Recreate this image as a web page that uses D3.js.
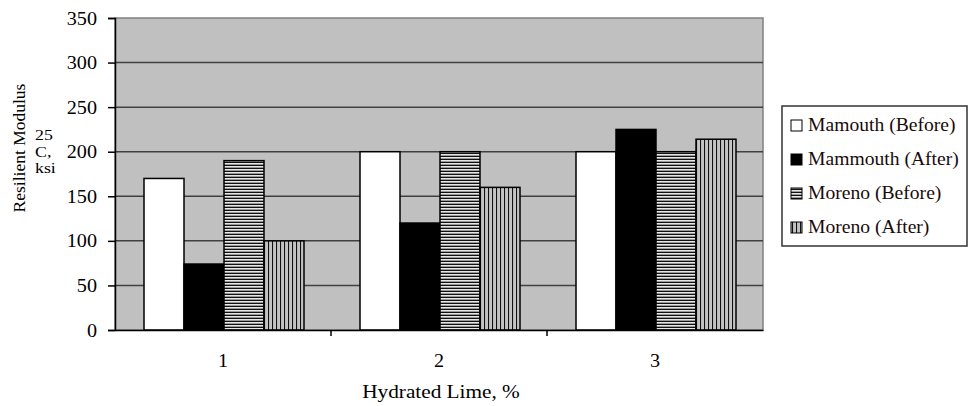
<!DOCTYPE html>
<html><head><meta charset="utf-8">
<script src="https://cdn.jsdelivr.net/npm/d3@7/dist/d3.min.js"></script>
<style>body{margin:0;background:#fff}svg{display:block}</style>
</head><body>
<svg id="c" width="970" height="406"></svg>
<script>
const categories = ["1","2","3"];
const seriesNames = ["Mamouth (Before)","Mammouth (After)","Moreno (Before)","Moreno (After)"];
const mamouthBefore = [170,200,200];
const mammouthAfter = [74,120,225];
const morenoBefore = [190,200,200];
const morenoAfter = [100,160,214];
const yTicks = [0,50,100,150,200,250,300,350];
const seriesValues = [mamouthBefore, mammouthAfter, morenoBefore, morenoAfter];

const FONT = '"Liberation Serif","Tinos","Times New Roman",serif';
const svg = d3.select("#c");
const m = {l:115, t:18, r:763, b:330};

const defs = svg.append("defs");
const ph = defs.append("pattern").attr("id","hstripe").attr("patternUnits","userSpaceOnUse")
  .attr("width",4).attr("height",3);
ph.append("rect").attr("width",4).attr("height",3).attr("fill","#ffffff");
ph.append("rect").attr("y",0).attr("width",4).attr("height",1.1).attr("fill","#111");
ph.append("rect").attr("y",2).attr("width",4).attr("height",1).attr("fill","#999");
const pv = defs.append("pattern").attr("id","vstripe").attr("patternUnits","userSpaceOnUse")
  .attr("width",4).attr("height",4);
pv.append("rect").attr("width",4).attr("height",4).attr("fill","#ffffff");
pv.append("rect").attr("x",0).attr("width",1.3).attr("height",4).attr("fill","#111");
pv.append("rect").attr("x",2.5).attr("width",1).attr("height",4).attr("fill","#888");
const fills = ["#ffffff","#000000","url(#hstripe)","url(#vstripe)"];

const x = d3.scaleBand().domain(categories).range([m.l, m.r]);
const xs = d3.scaleBand().domain(seriesNames).range([0, 160]);
const y = d3.scaleLinear().domain([0,350]).range([m.b, m.t]);

svg.append("rect").attr("x",m.l).attr("y",m.t).attr("width",m.r-m.l).attr("height",m.b-m.t)
  .attr("fill","#c0c0c0").attr("stroke","#808080").attr("stroke-width",1.5);

svg.append("g").selectAll("line").data(yTicks.filter(d=>d>0&&d<350)).join("line")
  .attr("x1",m.l).attr("x2",m.r).attr("y1",d=>y(d)).attr("y2",d=>y(d))
  .attr("stroke","#404040").attr("stroke-width",1.5);

const off = (x.bandwidth()-160)/2 + 1;
const g = svg.append("g");
categories.forEach((c,i)=>{
  seriesNames.forEach((s,j)=>{
    const v = seriesValues[j][i];
    g.append("rect").attr("x",x(c)+off+xs(s)).attr("y",y(v))
      .attr("width",xs.bandwidth()).attr("height",y(0)-y(v))
      .attr("fill",fills[j]).attr("stroke","#000").attr("stroke-width",1.5);
  });
});

function stext(parent, px, py, t, anchor, fs, sx){
  return parent.append("text").attr("transform",`translate(${px},${py}) scale(${sx||1.12},1)`)
    .attr("text-anchor",anchor||"start").style("font-family",FONT).attr("font-size",fs||18)
    .attr("fill","#000").text(t);
}

const ya = svg.append("g").attr("transform",`translate(${m.l},0)`)
  .call(d3.axisLeft(y).tickValues(yTicks).tickSize(7).tickFormat(""));
ya.select(".domain").attr("stroke","#000").attr("stroke-width",1.5);
ya.selectAll(".tick line").attr("stroke","#000").attr("stroke-width",1.5);
ya.selectAll(".tick").each(function(d){
  stext(d3.select(this), -18, 6, d3.format("d")(d), "end", 18, 1.12);
});

const xa = svg.append("g").attr("transform",`translate(0,${m.b})`)
  .call(d3.axisBottom(x).tickSize(0).tickFormat(""));
xa.select(".domain").attr("stroke","#000").attr("stroke-width",1.5);
xa.selectAll(".tick").each(function(d){
  stext(d3.select(this), 0, 37, d, "middle", 18, 1.12);
});
svg.append("g").selectAll("line").data(categories.slice(1)).join("line")
  .attr("x1",d=>x(d)).attr("x2",d=>x(d)).attr("y1",m.b).attr("y2",m.b+6)
  .attr("stroke","#000").attr("stroke-width",1.5);

svg.append("text").attr("transform","translate(25,148) rotate(-90)")
  .attr("text-anchor","middle").style("font-family",FONT).attr("font-size",17.5).text("Resilient Modulus");
[["25",140],["C,",156.5],["ksi",173]].forEach(([t,yy])=>{
  stext(svg, 35, yy, t, "start", 15.5, 1.15);
});
stext(svg, 441, 398, "Hydrated Lime, %", "middle", 18.5, 1.15);

const lg = svg.append("g");
lg.append("rect").attr("x",782).attr("y",106).attr("width",185).attr("height",140)
  .attr("fill","#fff").attr("stroke","#333").attr("stroke-width",1.5);
seriesNames.forEach((s,j)=>{
  const cy = 125 + j*34;
  lg.append("rect").attr("x",791).attr("y",cy-5).attr("width",11).attr("height",11)
    .attr("fill",fills[j]).attr("stroke","#000").attr("stroke-width",1);
  stext(lg, 808, cy+6, s, "start", 18, 1.09).attr("fill","#1a0a0a");
});
</script>
</body></html>
